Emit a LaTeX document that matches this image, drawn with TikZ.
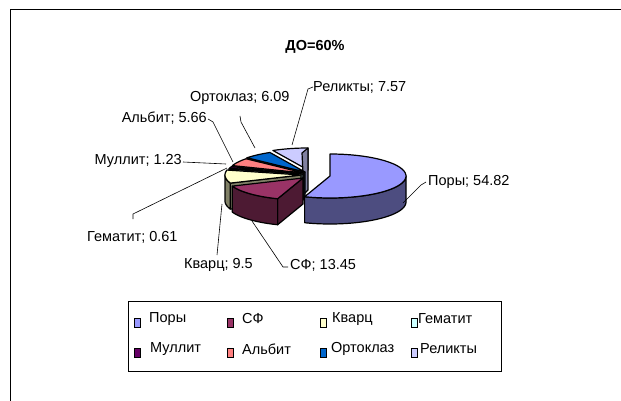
\documentclass[tikz,border=0pt]{standalone}
\usepackage{fontspec}
\setmainfont{Liberation Sans}
\definecolor{cPor}{HTML}{9999FF}\definecolor{sPor}{HTML}{4D4D80}
\definecolor{cSF}{HTML}{993366}\definecolor{sSF}{HTML}{4D1A33}
\definecolor{cKv}{HTML}{FFFFCC}\definecolor{sKv}{HTML}{808066}
\definecolor{cGe}{HTML}{CCFFFF}\definecolor{sGe}{HTML}{668080}
\definecolor{cMu}{HTML}{660066}\definecolor{sMu}{HTML}{330033}
\definecolor{cAl}{HTML}{FF8080}\definecolor{sAl}{HTML}{804040}
\definecolor{cOr}{HTML}{0066CC}\definecolor{sOr}{HTML}{003366}
\definecolor{cRe}{HTML}{CCCCFF}\definecolor{sRe}{HTML}{8080A0}
\def\pierx{76}\def\piery{22}\def\pieh{26}
% radial face: cx cy angle fill
\newcommand\rface[4]{\filldraw[pieline,fill=#4] (#1,#2) -- ({#1+\pierx*sin(#3)},{#2-\piery*cos(#3)}) -- ({#1+\pierx*sin(#3)},{#2+\pieh-\piery*cos(#3)}) -- (#1,#2+\pieh) -- cycle;}
% outer wall: cx cy a1 a2 fill
\newcommand\owall[5]{\filldraw[pieline,fill=#5] plot[domain=#3:#4,samples=40] ({#1+\pierx*sin(\x)},{#2-\piery*cos(\x)}) -- plot[domain=#4:#3,samples=40] ({#1+\pierx*sin(\x)},{#2+\pieh-\piery*cos(\x)}) -- cycle;}
% top face: cx cy a1 a2 fill
\newcommand\tface[5]{\filldraw[pieline,fill=#5] (#1,#2) -- plot[domain=#3:#4,samples=40] ({#1+\pierx*sin(\x)},{#2-\piery*cos(\x)}) -- cycle;}
\begin{document}
\begin{tikzpicture}[x=1pt,y=-1pt,
  pieline/.style={draw=black,line width=1.2pt,line join=round},
  leader/.style={draw=black,line width=0.6pt},
  lbl/.style={font=\fontsize{14.5}{16}\selectfont,inner sep=0pt},
  swatch/.style={draw=black,line width=0.9pt}]
\useasboundingbox (0,0) rectangle (621,401);
\fill[white] (0,0) rectangle (621,401);
\draw[line width=1pt] (10,401) -- (10,10) -- (621,10);
\node[font=\bfseries\fontsize{14.5}{16}\selectfont,inner sep=0pt] (title) at (315,47) {ДО=60\%};
% pie: back slices first
\tface{308}{170}{332.5}{360}{cRe}
\filldraw[pieline,fill=sRe] (302,153) -- (308,148) -- (308,190) -- (304,194) -- cycle;
\rface{305}{172}{310.3}{sOr}
\tface{305}{172}{310.3}{332.5}{cOr}
\rface{304}{173}{289.7}{sAl}
\tface{304}{173}{289.7}{310.3}{cAl}
\rface{303}{174}{285.2}{sMu}
\tface{303}{174}{285.2}{289.7}{cMu}
\rface{303}{174}{283.0}{sGe}
\tface{303}{174}{283.0}{285.2}{cGe}
\rface{301}{175}{248.4}{sKv}
\owall{301}{175}{248.4}{270}{sKv}
\tface{301}{175}{248.4}{283.0}{cKv}
\rface{303}{178}{199.5}{sSF}
\owall{303}{178}{199.5}{248.4}{sSF}
\tface{303}{178}{199.5}{248.4}{cSF}
\owall{330}{176}{90}{199.5}{sPor}
\tface{330}{176}{0}{199.5}{cPor}
% labels
\node[lbl,anchor=west] (lRe) at (313,87) {Реликты; 7.57};
\node[lbl,anchor=west] (lOr) at (190,98) {Ортоклаз; 6.09};
\node[lbl,anchor=east] (lAl) at (207,118) {Альбит; 5.66};
\node[lbl,anchor=east] (lMu) at (182,161) {Муллит; 1.23};
\node[lbl,anchor=west] (lGe) at (87,237) {Гематит; 0.61};
\node[lbl,anchor=east] (lKv) at (253,265) {Кварц; 9.5};
\node[lbl,anchor=west] (lSF) at (290,265) {СФ; 13.45};
\node[lbl,anchor=west] (lPo) at (428,182) {Поры; 54.82};
% leader points
\coordinate (kRe) at (308,89); \coordinate (pRe) at (292,145);
\coordinate (kOr) at (240,116); \coordinate (qOr) at (241,122); \coordinate (pOr) at (255,148);
\coordinate (kAl) at (208,119); \coordinate (qAl) at (213,122); \coordinate (pAl) at (233,162);
\coordinate (kMu) at (183,162); \coordinate (pMu) at (226,164);
\coordinate (kGe) at (133,219); \coordinate (qGe) at (133,214); \coordinate (pGe) at (227,168);
\coordinate (kKv) at (217,255); \coordinate (pKv) at (222,204);
\coordinate (kSF) at (288,267); \coordinate (qSF) at (283,267); \coordinate (pSF) at (252,221);
\coordinate (kPo) at (426,182); \coordinate (qPo) at (421,185); \coordinate (pPo) at (403,203);
\draw[leader] (lRe.west) -- (kRe) -- (pRe);
\draw[leader] (kOr) -- (qOr) -- (pOr);
\draw[leader] (kAl) -- (qAl) -- (pAl);
\draw[leader] (kMu) -- (pMu);
\draw[leader] (kGe) -- (qGe) -- (pGe);
\draw[leader] (kKv) -- (pKv);
\draw[leader] (kSF) -- (qSF) -- (pSF);
\draw[leader] (kPo) -- (qPo) -- (pPo);
% legend
\draw[line width=0.8pt] (128,301) rectangle (501,371);
\foreach \sx/\sy/\col/\tx/\txt/\nm in {134/318/cPor/149/Поры/a, 227/318/cSF/242/СФ/b, 320/318/cKv/332/Кварц/c, 411/318/cGe/418/Гематит/d,
  134/348/cMu/150/Муллит/e, 227/348/cAl/242/Альбит/f, 320/348/cOr/331/Ортоклаз/g, 411/348/cRe/420/Реликты/h}{
  \filldraw[swatch,fill=\col] (\sx,\sy) rectangle ++(6,9);
  \node[lbl,anchor=west] (leg\nm) at (\tx,\sy+1) {\txt};
}
\end{tikzpicture}
\end{document}
